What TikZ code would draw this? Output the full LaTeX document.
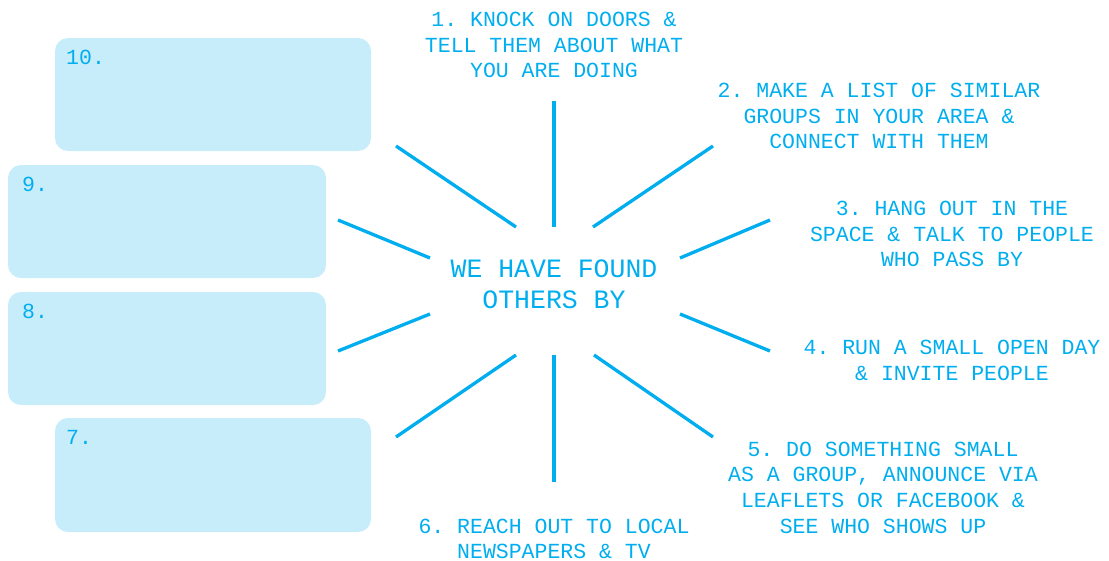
\documentclass[tikz,border=0pt]{standalone}
\usepackage{fontspec}
\setmonofont{Liberation Mono}
\definecolor{cyanc}{RGB}{0,174,239}
\tikzset{
  ray/.style={draw=cyanc, line width=3.3pt, line cap=butt},
  lbl/.style={text=cyanc, font=\ttfamily\fontsize{21.5}{25.7}\selectfont, align=center, inner sep=0pt, anchor=north},
  hub/.style={text=cyanc, font=\ttfamily\fontsize{26.5}{31}\selectfont, align=center, inner sep=0pt, anchor=north},
  emptybox/.style={fill=cyanc!22, draw=none, rounded corners=13pt},
  boxnum/.style={text=cyanc, font=\ttfamily\fontsize{21.5}{25.7}\selectfont, inner sep=0pt, anchor=north west}
}
\begin{document}
\begin{tikzpicture}[x=1pt,y=-1pt]
\useasboundingbox (0,0) rectangle (1109,560);
% empty boxes
\path[emptybox] (55,38) rectangle (371,151);
\path[emptybox] (8,165) rectangle (326,278);
\path[emptybox] (8,292) rectangle (326,405);
\path[emptybox] (55,418) rectangle (371,532);
\node[boxnum] (n10) at (66,49.5) {10.};
\node[boxnum] (n9) at (22,176.5) {9.};
\node[boxnum] (n8) at (22,303.5) {8.};
\node[boxnum] (n7) at (66,430) {7.};
% hub text
\node[hub] (hub) at (554,259.5) {WE HAVE FOUND\\OTHERS BY};
% labels
\node[lbl] (t1) at (554,12) {1. KNOCK ON DOORS \&\\TELL THEM ABOUT WHAT\\YOU ARE DOING};
\node[lbl] (t2) at (879,83) {2. MAKE A LIST OF SIMILAR\\GROUPS IN YOUR AREA \&\\CONNECT WITH THEM};
\node[lbl] (t3) at (952,201) {3. HANG OUT IN THE\\SPACE \& TALK TO PEOPLE\\WHO PASS BY};
\node[lbl] (t4) at (952,340) {4. RUN A SMALL OPEN DAY\\\& INVITE PEOPLE};
\node[lbl] (t5) at (883,441.5) {5. DO SOMETHING SMALL\\AS A GROUP, ANNOUNCE VIA\\LEAFLETS OR FACEBOOK \&\\SEE WHO SHOWS UP};
\node[lbl] (t6) at (554,518.5) {6. REACH OUT TO LOCAL\\NEWSPAPERS \& TV};
% ray end points
\coordinate (r1a) at (554,227); \coordinate (r1b) at (554,101);
\coordinate (r2a) at (593,227); \coordinate (r2b) at (713,146);
\coordinate (r3a) at (680,258); \coordinate (r3b) at (770,220);
\coordinate (r4a) at (680,314); \coordinate (r4b) at (770,351);
\coordinate (r5a) at (594,355); \coordinate (r5b) at (713,437);
\coordinate (r6a) at (554,355); \coordinate (r6b) at (554,482);
\coordinate (r7a) at (516,355); \coordinate (r7b) at (396,437);
\coordinate (r8a) at (430,314); \coordinate (r8b) at (338,351);
\coordinate (r9a) at (430,258); \coordinate (r9b) at (338,220);
\coordinate (r10a) at (516,227); \coordinate (r10b) at (396,146);
\foreach \i in {1,...,10} { \draw[ray] (r\i a) -- (r\i b); }
\end{tikzpicture}
\end{document}
